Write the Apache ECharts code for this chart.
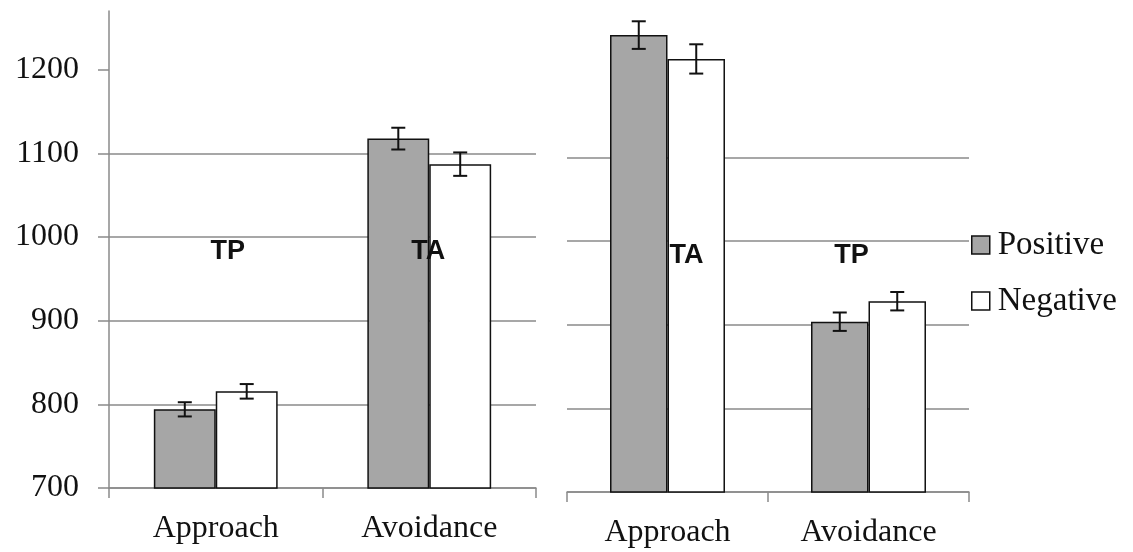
<!DOCTYPE html>
<html>
<head>
<meta charset="utf-8">
<script src="https://cdn.jsdelivr.net/npm/echarts@6/dist/echarts.min.js"></script>
<style>
  html, body { margin: 0; padding: 0; background: #fff; }
  #chart { width: 1133px; height: 552px; }
</style>
</head>
<body>
<div id="chart"></div>
<script>
// ---- data ----
const categories = ['Approach', 'Avoidance'];
const seriesNames = ['Positive', 'Negative'];
const leftPositive = [794, 1117.5];
const leftNegative = [815.5, 1087];
const leftPositiveErr = [8.5, 13];
const leftNegativeErr = [8.7, 14];
const rightPositive = [1246, 903.5];
const rightNegative = [1217.5, 928];
const rightPositiveErr = [16.5, 11];
const rightNegativeErr = [17.5, 11];
const yTicks = [700, 800, 900, 1000, 1100, 1200];
const leftLabels = ['TP', 'TA'];
const rightLabels = ['TA', 'TP'];
const labelValue = 983;

// ---- styles ----
const GRID_COLOR = '#8a8a8a';
const POS_COLOR = '#a6a6a6';
const INK = '#111';
const SERIF = '"Liberation Serif", "Times New Roman", serif';
const SANS = '"Liberation Sans", Arial, sans-serif';
const barPct = [0.29, 0.286];
const labelNudge = [[12, -1], [19, -17]];

function xAxisCfg(g) {
  return {
    type: 'category', gridIndex: g, data: categories,
    axisLine: { show: true, lineStyle: { color: GRID_COLOR, width: 1.5 } },
    axisTick: { show: true, length: 10, lineStyle: { color: GRID_COLOR, width: 1.5 } },
    axisLabel: { margin: 25, fontFamily: SERIF, fontSize: 32, lineHeight: 32, color: INK },
    splitLine: { show: false }
  };
}
function yAxisCfg(g, showAxis) {
  return {
    type: 'value', gridIndex: g, min: 700, max: 1270, interval: 100,
    axisLine: { show: showAxis, lineStyle: { color: GRID_COLOR, width: 1.5 } },
    axisTick: { show: showAxis, length: 11, customValues: yTicks, lineStyle: { color: GRID_COLOR, width: 1.5 } },
    axisLabel: { show: showAxis, customValues: yTicks, margin: 30, fontFamily: SERIF, fontSize: 32, color: INK,
      formatter: function (v) { return String(v); } },
    splitLine: { show: true, showMaxLine: false, lineStyle: { color: GRID_COLOR, width: 1.5 } }
  };
}
function barSeries(g, name, values, color) {
  return {
    type: 'bar', name: name, xAxisIndex: g, yAxisIndex: g, data: values,
    barWidth: (barPct[g] * 100) + '%', barGap: '0%',
    itemStyle: { color: color, borderColor: INK, borderWidth: 1.5 },
    silent: true, animation: false
  };
}
function errSeries(g, means, errs, side) {
  return {
    type: 'custom', xAxisIndex: g, yAxisIndex: g, z: 5, silent: true, animation: false,
    data: means.map((m, i) => [i, m, errs[i]]),
    renderItem: function (params, api) {
      const ci = api.value(0), m = api.value(1), e = api.value(2);
      const c = api.coord([ci, m]);
      const band = api.size([1, 0])[0];
      const x = c[0] + side * band * barPct[g] / 2;
      const top = api.coord([ci, m + e])[1];
      const bot = api.coord([ci, m - e])[1];
      const hw = 7;
      const st = { stroke: INK, lineWidth: 2 };
      return {
        type: 'group', children: [
          { type: 'line', shape: { x1: x, y1: top, x2: x, y2: bot }, style: st },
          { type: 'line', shape: { x1: x - hw, y1: top, x2: x + hw, y2: top }, style: st },
          { type: 'line', shape: { x1: x - hw, y1: bot, x2: x + hw, y2: bot }, style: st }
        ]
      };
    }
  };
}
function labelSeries(g, labels) {
  return {
    type: 'custom', xAxisIndex: g, yAxisIndex: g, z: 6, silent: true, animation: false,
    data: labels.map((t, i) => [i, labelValue]),
    renderItem: function (params, api) {
      const c = api.coord([api.value(0), api.value(1)]);
      return {
        type: 'text',
        x: c[0] + labelNudge[g][params.dataIndex], y: c[1],
        style: { text: labels[params.dataIndex], font: 'bold 27px ' + SANS, fill: INK, align: 'center', verticalAlign: 'middle' }
      };
    }
  };
}

const chart = echarts.init(document.getElementById('chart'), null, { renderer: 'canvas' });
chart.setOption({
  animation: false,
  backgroundColor: '#fff',
  textStyle: { fontFamily: SERIF },
  grid: [
    { left: 109, right: 597, top: 11, bottom: 64 },
    { left: 567, right: 164, top: 15, bottom: 60 }
  ],
  legend: {
    data: seriesNames, orient: 'vertical', left: 966, top: 223,
    icon: 'rect', itemWidth: 18, itemHeight: 18, itemGap: 22,
    selectedMode: false,
    itemStyle: { borderColor: INK, borderWidth: 1.5 },
    textStyle: { fontFamily: SERIF, fontSize: 33, lineHeight: 34, color: INK, padding: [0, 0, 0, 3] }
  },
  xAxis: [xAxisCfg(0), xAxisCfg(1)],
  yAxis: [yAxisCfg(0, true), yAxisCfg(1, false)],
  series: [
    barSeries(0, 'Positive', leftPositive, POS_COLOR),
    barSeries(0, 'Negative', leftNegative, '#ffffff'),
    barSeries(1, 'Positive', rightPositive, POS_COLOR),
    barSeries(1, 'Negative', rightNegative, '#ffffff'),
    errSeries(0, leftPositive, leftPositiveErr, -1),
    errSeries(0, leftNegative, leftNegativeErr, 1),
    errSeries(1, rightPositive, rightPositiveErr, -1),
    errSeries(1, rightNegative, rightNegativeErr, 1),
    labelSeries(0, leftLabels),
    labelSeries(1, rightLabels)
  ]
});
</script>
</body>
</html>
